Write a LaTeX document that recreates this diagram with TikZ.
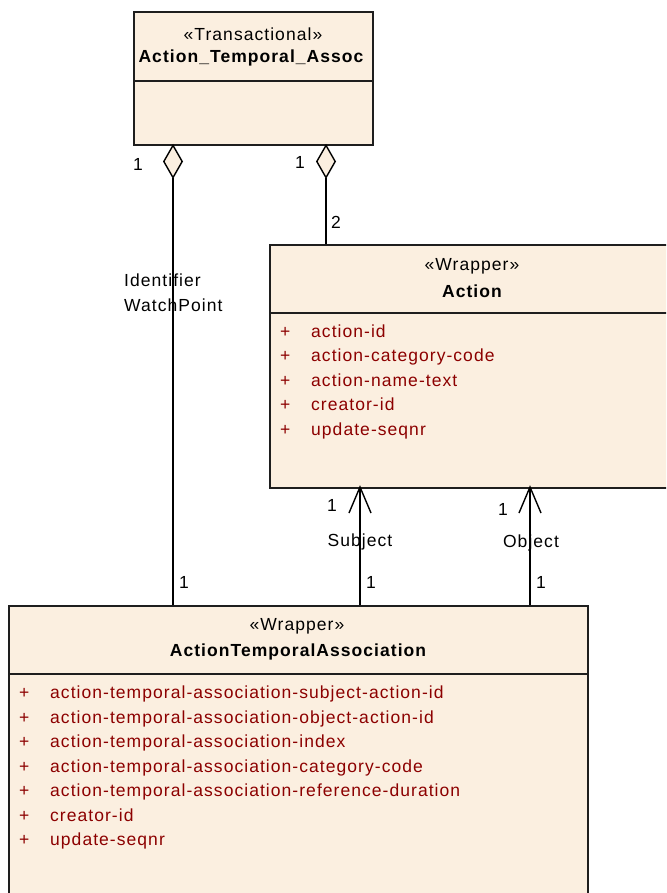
\documentclass[tikz,border=0pt]{standalone}
\usepackage{fontspec}
\setmainfont{Liberation Sans}[LetterSpace=6]
\usetikzlibrary{arrows.meta}
\definecolor{boxfill}{RGB}{251,239,224}
\definecolor{attrred}{RGB}{140,0,0}
\definecolor{edge}{RGB}{30,30,30}
\tikzset{
  classbox/.style={draw=edge, line width=1.6pt, fill=boxfill, anchor=north west, inner sep=0pt},
  divider/.style={draw=edge, line width=1.6pt},
  lbl/.style={font=\fontsize{17.5}{20}\selectfont, inner sep=0pt, text=black},
  title/.style={lbl, font=\fontsize{17.5}{20}\selectfont\bfseries},
  attr/.style={lbl, text=attrred, anchor=mid west},
  conn/.style={line width=1.4pt, draw=black},
}
\begin{document}
\begin{tikzpicture}[x=1pt,y=-1pt]
\useasboundingbox (0,0) rectangle (666,893);
\clip (0,0) rectangle (666,893);

% class boxes
\node[classbox, minimum width=239pt, minimum height=133pt] (tas) at (133,11) {};
\node[classbox, minimum width=410pt, minimum height=243pt] (act) at (269,244) {};
\node[classbox, minimum width=579pt, minimum height=300pt] (ata) at (8,605) {};

% compartments
\draw[divider] (tas.west |- 0,81) -- (tas.east |- 0,81);
\draw[divider] (act.west |- 0,313) -- (act.east |- 0,313);
\draw[divider] (ata.west |- 0,674) -- (ata.east |- 0,674);

% top box texts
\node[lbl] (tasst) at (253,34) {«Transactional»};
\node[title] (tasnm) at (251,58) {Action\_Temporal\_Assoc};

% Action texts
\node[lbl] (actst) at (472,266) {«Wrapper»};
\node[title] (actnm) at (472,291) {Action};
\foreach \t [count=\i] in {action-id,action-category-code,action-name-text,creator-id,update-seqnr}{
  \node[attr] (actp\i) at (280,{334.5+(\i-1)*24.6}) {+};
  \node[attr] (acta\i) at (311,{334.5+(\i-1)*24.6}) {\t};
}

% ATA texts
\node[lbl] (atast) at (297,626) {«Wrapper»};
\node[title] (atanm) at (298,652) {ActionTemporalAssociation};
\foreach \t [count=\i] in {action-temporal-association-subject-action-id,action-temporal-association-object-action-id,action-temporal-association-index,action-temporal-association-category-code,action-temporal-association-reference-duration,creator-id,update-seqnr}{
  \node[attr] (atap\i) at (19,{696+(\i-1)*24.5}) {+};
  \node[attr] (ataa\i) at (50,{696+(\i-1)*24.5}) {\t};
}

% connector end points
\coordinate (tasL) at (173,144);
\coordinate (tasR) at (326,144);
\coordinate (ataL) at (173,605);
\coordinate (actT) at (326,244);
\coordinate (actS) at (360,487);
\coordinate (ataS) at (360,605);
\coordinate (actO) at (530,487);
\coordinate (ataO) at (530,605);

% connectors
\draw[conn, -{Diamond[length=35pt,width=20pt,fill=boxfill]}] (ataL) -- (tasL);
\draw[conn, -{Diamond[length=35pt,width=20pt,fill=boxfill]}] (actT) -- (tasR);
\draw[conn] (ataS) -- (actS);
\draw[conn] (actS) ++(-11,26) -- (actS) -- ++(11,26);
\draw[conn] (ataO) -- (actO);
\draw[conn] (actO) ++(-11,26) -- (actO) -- ++(11,26);

% connector labels
\node[lbl] (m1) at (138,164) {1};
\node[lbl] (m2) at (300,162) {1};
\node[lbl] (m3) at (336,222) {2};
\node[lbl, anchor=west] (r1) at (124,280) {Identifier};
\node[lbl, anchor=west] (r2) at (124,305) {WatchPoint};
\node[lbl] (m4) at (184,582) {1};
\node[lbl] (m5) at (332,505) {1};
\node[lbl] (r3) at (360,542) {Subject};
\node[lbl] (m6) at (371,582) {1};
\node[lbl] (m7) at (503,509) {1};
\node[lbl] (r4) at (531,543) {Object};
\node[lbl] (m8) at (541,582) {1};
\end{tikzpicture}
\end{document}
